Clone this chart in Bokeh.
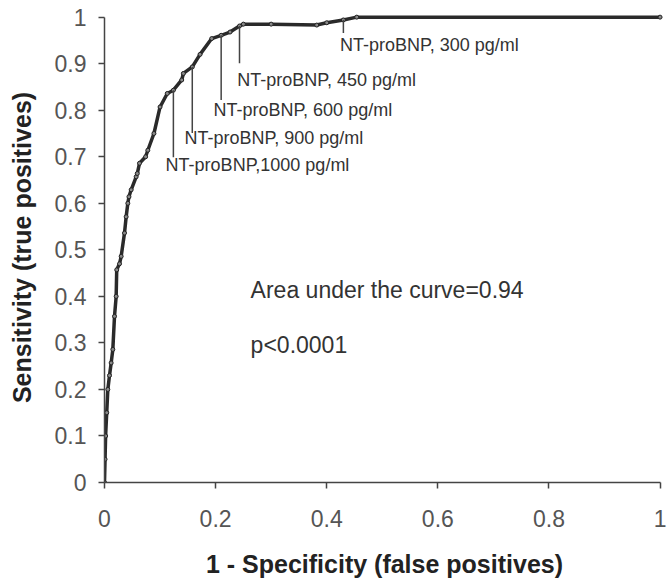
from bokeh.plotting import figure
from bokeh.models import Range1d, FixedTicker, ColumnDataSource
from bokeh.core.properties import value
from bokeh.embed import file_html
from bokeh.resources import INLINE

# ROC curve points (1 - specificity, sensitivity)
fpr = [0, 0.001, 0.002, 0.004, 0.006, 0.009, 0.012, 0.015, 0.018, 0.021, 0.022,
       0.027, 0.030, 0.036, 0.039, 0.042, 0.044, 0.048, 0.057, 0.059, 0.063,
       0.074, 0.078, 0.089, 0.100, 0.113, 0.124, 0.139, 0.142, 0.158, 0.172,
       0.193, 0.210, 0.226, 0.243, 0.250, 0.300, 0.382, 0.400, 0.430, 0.454, 1.0]
tpr = [0, 0.05, 0.10, 0.15, 0.20, 0.23, 0.257, 0.286, 0.357, 0.40, 0.457,
       0.47, 0.486, 0.536, 0.571, 0.600, 0.614, 0.629, 0.657, 0.664, 0.686,
       0.700, 0.714, 0.750, 0.807, 0.836, 0.843, 0.865, 0.879, 0.893, 0.920,
       0.954, 0.961, 0.968, 0.981, 0.985, 0.985, 0.983, 0.988, 0.994, 1.0, 1.0]

# Cut-off annotations
cut_labels = ["NT-proBNP,1000 pg/ml", "NT-proBNP, 900 pg/ml", "NT-proBNP, 600 pg/ml",
              "NT-proBNP, 450 pg/ml", "NT-proBNP, 300 pg/ml"]
cut_fpr = [0.124, 0.158, 0.210, 0.243, 0.430]
cut_tpr = [0.843, 0.893, 0.961, 0.981, 0.994]
# layout of the annotation leaders and texts (data units)
lead_bottom = [0.699, 0.751, 0.822, 0.901, 0.966]
lab_x = [0.110, 0.144, 0.196, 0.239, 0.424]
lab_y = [0.682, 0.740, 0.800, 0.865, 0.940]

x_ticks = [0, 0.2, 0.4, 0.6, 0.8, 1]
x_tick_labels = ["0", "0.2", "0.4", "0.6", "0.8", "1"]
y_ticks = [0, 0.1, 0.2, 0.3, 0.4, 0.5, 0.6, 0.7, 0.8, 0.9, 1]
y_tick_labels = ["0", "0.1", "0.2", "0.3", "0.4", "0.5", "0.6", "0.7", "0.8", "0.9", "1"]

auc_text = "Area under the curve=0.94"
p_text = "p<0.0001"

FONT = "Liberation Sans"

p = figure(width=667, height=582, output_backend="svg", toolbar_location=None,
           x_range=Range1d(0, 1.008), y_range=Range1d(0, 1.01),
           min_border_left=104, min_border_right=3, min_border_top=12, min_border_bottom=100)
p.outline_line_color = None
p.grid.visible = False
p.background_fill_color = "white"

for ax, ticks, labels in ((p.xaxis, x_ticks, x_tick_labels), (p.yaxis, y_ticks, y_tick_labels)):
    ax.bounds = (0, 1)
    ax.ticker = FixedTicker(ticks=ticks)
    ax.major_label_overrides = {t: l for t, l in zip(ticks, labels)}
    ax.axis_line_color = "#444444"
    ax.axis_line_width = 1.5
    ax.major_tick_line_color = "#444444"
    ax.major_tick_line_width = 1.5
    ax.major_tick_out = 6
    ax.major_tick_in = 0
    ax.minor_tick_out = 0
    ax.minor_tick_in = 0
    ax.major_label_text_font = FONT
    ax.major_label_text_font_size = "23px"
    ax.major_label_text_color = "#555555"
    ax.axis_label_text_font = FONT
    ax.axis_label_text_font_size = "25px"
    ax.axis_label_text_font_style = "bold"
    ax.axis_label_text_color = "#222222"

p.xaxis.axis_label = "1 - Specificity (false positives)"
p.yaxis.axis_label = "Sensitivity (true positives)"
p.xaxis.major_label_standoff = 21
p.xaxis.axis_label_standoff = 20
p.yaxis.major_label_standoff = 12
p.yaxis.axis_label_standoff = 16

src = ColumnDataSource(dict(x=fpr, y=tpr))
p.line("x", "y", source=src, line_color="#2a2a2a", line_width=3.5)
p.scatter("x", "y", source=src, size=4, line_color="#222222", fill_color="#888888")

# leaders
p.segment(x0=cut_fpr, y0=cut_tpr, x1=cut_fpr, y1=lead_bottom,
          line_color="#444444", line_width=1.5)
p.text(x=lab_x, y=lab_y, text=cut_labels, text_font=value(FONT),
       text_font_size="18px", text_color="#333333",
       text_align="left", text_baseline="middle")

p.text(x=[0.263, 0.263], y=[0.413, 0.295], text=[auc_text, p_text],
       text_font=value(FONT), text_font_size="23px", text_color="#333333",
       text_align="left", text_baseline="middle")

open("out.html", "w").write(file_html(p, INLINE))
